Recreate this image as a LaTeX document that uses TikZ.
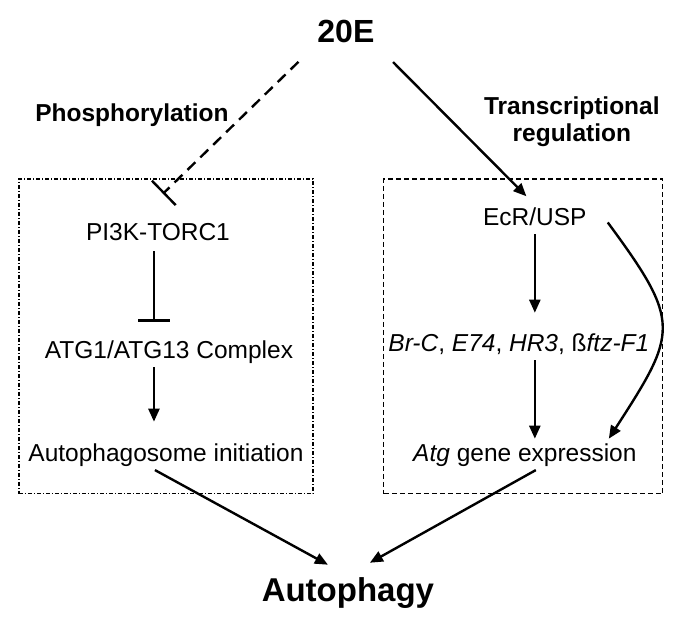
\documentclass[tikz,border=0pt]{standalone}
\usepackage{fontspec}
\setmainfont{Liberation Sans}
\usetikzlibrary{arrows.meta,calc}
\tikzset{
    steptxt/.style={
        font=\fontsize{24.5}{29}\selectfont,
        inner sep=3pt,
        text height=18pt,
        text depth=5pt
    },
    headtxt/.style={
        font=\fontsize{24.5}{27}\selectfont\bfseries,
        inner sep=3pt,
        align=center
    },
    framebox/.style={
        rectangle,
        draw=black,
        line width=1.2pt
    },
    arrow/.style={
        -{Triangle[length=13pt,width=11pt]},
        line width=2.4pt
    },
    inhibit/.style={
        -{Bar[width=34pt,line width=2.4pt]},
        line width=2.4pt
    }
}
\begin{document}
\begin{tikzpicture}[x=1pt, y=-1pt]
    % Frames
    \node[framebox, dash pattern=on 4pt off 2pt on 1pt off 2pt,
          minimum width=294pt, minimum height=315pt] (leftframe) at (166,336.5) {};
    \node[framebox, dash pattern=on 5pt off 3pt,
          minimum width=279pt, minimum height=315pt] (rightframe) at (523.5,336.5) {};

    % Top and bottom
    \node[anchor=base, font=\fontsize{32}{36}\selectfont\bfseries, inner sep=3pt] (e20) at (346,43) {20E};
    \node[anchor=base, font=\fontsize{33}{38}\selectfont\bfseries, inner sep=3pt] (autophagy) at (348,602) {Autophagy};
    \node[headtxt, anchor=base] (phos) at (132,122) {Phosphorylation};
    \node[headtxt, anchor=north] (trans) at (572,94) {Transcriptional\\regulation};

    % Left column
    \node[steptxt] (pi3k)    at (158,234.5) {PI3K-TORC1};
    \node[steptxt] (atg1)    at (169,352.5) {ATG1/ATG13 Complex};
    \node[steptxt] (autoini) at (166,455.5) {Autophagosome initiation};

    % Right column
    \node[steptxt] (ecr) at (535,219.5) {EcR/USP};
    \node[steptxt] (brc) at (519,345.5) {\textit{Br-C}, \textit{E74}, \textit{HR3}, ß\textit{ftz-F1}};
    \node[steptxt] (atg) at (525,455.5) {\textit{Atg} gene expression};

    % 20E branches
    \draw[inhibit, dash pattern=on 11pt off 7pt, shorten <=22pt]
        (e20.south west) -- ($(pi3k.north)+(5,-26)$);
    \draw[arrow, shorten <=22pt, shorten >=12pt] (e20.south east) -- (ecr.north);

    % Left chain
    \draw[-{Bar[width=32pt,line width=2.4pt]}, line width=2.4pt]
        ([xshift=-4pt,yshift=-2pt]pi3k.south) -- ([xshift=-15pt,yshift=16pt]atg1.north);
    \draw[arrow] ([xshift=-15pt]atg1.south) -- ([xshift=-12pt,yshift=19pt]autoini.north);

    % Right chain
    \draw[arrow] (ecr.south) -- ([xshift=16pt,yshift=18pt]brc.north);
    \draw[arrow] ([xshift=16pt]brc.south) -- ([xshift=10pt,yshift=2pt]atg.north);
    \draw[arrow] ($(ecr.east)+(18,3)$) .. controls (682,323) and (678,332) .. ([xshift=84pt,yshift=2pt]atg.north);

    % Into autophagy
    \draw[arrow] ([xshift=-11pt]autoini.south) -- ([xshift=-20pt,yshift=10pt]autophagy.north);
    \draw[arrow] ([xshift=11pt]atg.south) -- ([xshift=22pt,yshift=12pt]autophagy.north);

    \useasboundingbox (0,0) rectangle (683,633);
\end{tikzpicture}
\end{document}
